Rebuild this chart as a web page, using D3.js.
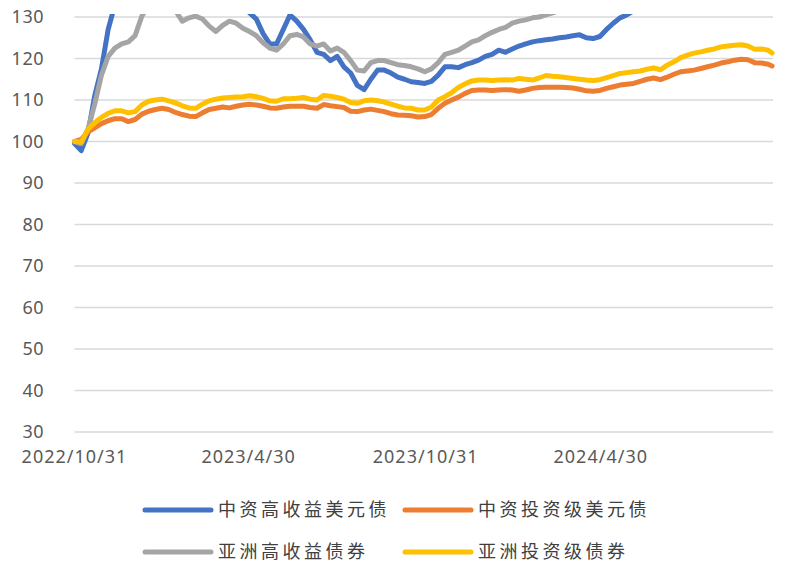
<!DOCTYPE html>
<html>
<head>
<meta charset="utf-8">
<script src="https://cdn.jsdelivr.net/npm/d3@7"></script>
<style>
  body { margin: 0; background: #fff; }
  svg { display: block; }
  text { font-family: "Noto Sans", "Noto Sans CJK SC", sans-serif; fill: #595959; }
</style>
</head>
<body>
<div id="chart"></div>
<script>
// weekly observation dates
var dates = [
  "2022-10-31","2022-11-07","2022-11-14","2022-11-21","2022-11-28","2022-12-05","2022-12-12","2022-12-19","2022-12-26",
  "2023-01-02","2023-01-09","2023-01-16","2023-01-23","2023-01-30","2023-02-06","2023-02-13","2023-02-20","2023-02-27",
  "2023-03-06","2023-03-13","2023-03-20","2023-03-27","2023-04-03","2023-04-10","2023-04-17","2023-04-24","2023-05-01",
  "2023-05-08","2023-05-15","2023-05-22","2023-05-29","2023-06-05","2023-06-12","2023-06-19","2023-06-26","2023-07-03",
  "2023-07-10","2023-07-17","2023-07-24","2023-07-31","2023-08-07","2023-08-14","2023-08-21","2023-08-28","2023-09-04",
  "2023-09-11","2023-09-18","2023-09-25","2023-10-02","2023-10-09","2023-10-16","2023-10-23","2023-10-30","2023-11-06",
  "2023-11-13","2023-11-20","2023-11-27","2023-12-04","2023-12-11","2023-12-18","2023-12-25","2024-01-01","2024-01-08",
  "2024-01-15","2024-01-22","2024-01-29","2024-02-05","2024-02-12","2024-02-19","2024-02-26","2024-03-04","2024-03-11",
  "2024-03-18","2024-03-25","2024-04-01","2024-04-08","2024-04-15","2024-04-22","2024-04-29","2024-05-06","2024-05-13",
  "2024-05-20","2024-05-27","2024-06-03","2024-06-10","2024-06-17","2024-06-24","2024-07-01","2024-07-08","2024-07-15",
  "2024-07-22","2024-07-29","2024-08-05","2024-08-12","2024-08-19","2024-08-26","2024-09-02","2024-09-09","2024-09-16",
  "2024-09-23","2024-09-30","2024-10-07","2024-10-14","2024-10-21","2024-10-25"
];

// 中资高收益美元债
var cnHighYield = [
  99.5, 97.8, 102, 111, 117.5, 127, 133, 135, 137, 138,
  140, 141, 140, 139, 141, 142, 140, 139, 141, 140,
  138, 137, 136, 135, 134, 133, 131, 129.5, 126, 123.5,
  123.5, 127, 130.5, 129, 127, 124.5, 121.5, 121, 119.5, 120.5,
  118, 116.5, 113.5, 112.5, 115, 117.2, 117.2, 116.5, 115.5, 115,
  114.4, 114.2, 114, 114.5, 116, 118, 118, 117.8, 118.5, 119,
  119.6, 120.5, 121, 122, 121.5, 122.3, 123, 123.5, 124, 124.3,
  124.5, 124.7, 125, 125.2, 125.5, 125.7, 125, 124.8, 125.3, 127,
  128.5, 129.8, 130.5, 131.5, 132, 133, 134, 134.5, 135, 136,
  137, 137.5, 138, 139, 140, 141, 141.5, 142, 143, 143.5,
  144, 144, 143.5, 143, 142.5
];

// 中资投资级美元债
var cnInvGrade = [
  100, 100.5, 102.3, 103.3, 104.3, 105, 105.5, 105.5, 104.8, 105.3,
  106.6, 107.3, 107.7, 108, 107.7, 107, 106.5, 106.1, 106, 106.9,
  107.7, 108, 108.3, 108.1, 108.5, 108.8, 109, 108.8, 108.5, 108.1,
  108, 108.3, 108.5, 108.5, 108.5, 108.2, 108, 108.9, 108.6, 108.4,
  108.2, 107.3, 107.2, 107.6, 107.8, 107.5, 107.2, 106.7, 106.4, 106.3,
  106.2, 105.9, 106, 106.5, 108, 109.2, 110, 110.7, 111.6, 112.3,
  112.4, 112.4, 112.3, 112.4, 112.5, 112.4, 112.1, 112.4, 112.8, 113,
  113.1, 113.1, 113.1, 113, 112.9, 112.6, 112.2, 112.1, 112.3, 112.8,
  113.2, 113.6, 113.8, 114, 114.5, 115, 115.3, 114.9, 115.5, 116.2,
  116.8, 117, 117.2, 117.6, 118, 118.4, 118.9, 119.2, 119.6, 119.8,
  119.7, 119, 118.9, 118.6, 118.2
];

// 亚洲高收益债券
var asiaHighYield = [
  100, 99.5, 103, 109, 116, 120.5, 122.5, 123.5, 124, 125.5,
  130.2, 133, 134, 134, 133, 131.5, 129, 129.8, 130.2, 129.5,
  127.8, 126.5, 128, 129, 128.5, 127.3, 126.5, 125.5, 123.8, 122.5,
  122, 123.5, 125.5, 125.8, 125.2, 123.5, 123, 123.5, 121.8, 122.5,
  121.5, 119.5, 117.2, 117, 119, 119.5, 119.5, 119, 118.5, 118.3,
  118, 117.5, 116.8, 117.5, 119, 121, 121.5, 122, 123, 124,
  124.5, 125.5, 126.3, 127, 127.5, 128.5, 129, 129.3, 129.8, 130,
  130.5, 131, 131.5, 132, 132.5, 133, 133.5, 134, 134.5, 135,
  135.5, 136, 136.5, 137, 137.5, 138, 138.5, 139, 139.5, 140,
  140.5, 141, 141.5, 142, 142.5, 143, 143.5, 143.5, 143, 142.5,
  142, 141.5, 141, 141, 140.5
];

// 亚洲投资级债券
var asiaInvGrade = [
  100, 99.8, 103, 104.5, 105.8, 106.8, 107.4, 107.4, 106.9, 107.2,
  108.8, 109.7, 110, 110.2, 109.8, 109.3, 108.6, 108.1, 108, 109,
  109.8, 110.2, 110.5, 110.6, 110.7, 110.8, 111, 110.8, 110.4, 109.8,
  109.7, 110.3, 110.3, 110.4, 110.6, 110.2, 110, 111.1, 110.9, 110.6,
  110.2, 109.4, 109.2, 109.8, 110, 109.8, 109.5, 109, 108.5, 108.1,
  108, 107.6, 107.6, 108.3, 110, 110.8, 111.8, 113, 113.9, 114.6,
  114.8, 114.8, 114.7, 114.8, 114.9, 114.8, 115.2, 115, 114.8, 115.3,
  115.9, 115.7, 115.6, 115.4, 115.2, 115, 114.8, 114.7, 114.9, 115.4,
  115.9, 116.4, 116.6, 116.8, 117, 117.4, 117.7, 117.3, 118.4, 119.2,
  120.2, 120.8, 121.3, 121.6, 122, 122.3, 122.8, 123, 123.2, 123.3,
  123, 122.2, 122.3, 122, 121.3
];

var seriesNames = ["中资高收益美元债", "中资投资级美元债", "亚洲高收益债券", "亚洲投资级债券"];
var seriesColors = ["#4472C4", "#ED7D31", "#A5A5A5", "#FFC000"];
var xTickLabels = ["2022/10/31", "2023/4/30", "2023/10/31", "2024/4/30"];
var yTicks = [30, 40, 50, 60, 70, 80, 90, 100, 110, 120, 130];

(() => {
    const width = 788, height = 577;
    const plotLeft = 74.5, plotRight = 773, plotTop = 17, plotBottom = 432;

    const parse = d3.timeParse("%Y-%m-%d");
    const dateObjs = dates.map(parse);
    const tickParse = d3.timeParse("%Y/%m/%d");

    const svg = d3.select("#chart")
        .append("svg")
        .attr("width", width)
        .attr("height", height);

    const xScale = d3.scaleTime()
        .domain([parse("2022-10-31"), parse("2024-10-26")])
        .range([plotLeft, plotRight]);

    const yScale = d3.scaleLinear()
        .domain([30, 130])
        .range([plotBottom, plotTop]);

    // gridlines
    svg.append("g")
        .selectAll("line")
        .data(yTicks)
        .enter()
        .append("line")
        .attr("x1", plotLeft)
        .attr("x2", plotRight)
        .attr("y1", d => yScale(d))
        .attr("y2", d => yScale(d))
        .attr("stroke", "#d9d9d9")
        .attr("stroke-width", 1.3);

    // y labels
    svg.append("g")
        .selectAll("text")
        .data(yTicks)
        .enter()
        .append("text")
        .attr("x", 44)
        .attr("y", d => yScale(d))
        .attr("dy", "0.35em")
        .attr("text-anchor", "end")
        .style("font-size", "18px")
        .style("letter-spacing", "0.5px")
        .text(d => d);

    // x labels
    svg.append("g")
        .selectAll("text")
        .data(xTickLabels)
        .enter()
        .append("text")
        .attr("x", d => xScale(tickParse(d)))
        .attr("y", 457)
        .attr("dy", "0.35em")
        .attr("text-anchor", "middle")
        .style("font-size", "18px")
        .style("letter-spacing", "1px")
        .text(d => d);

    // lines above 130 are cut off at the plot top
    svg.append("clipPath")
        .attr("id", "plot-clip")
        .append("rect")
        .attr("x", 0)
        .attr("y", 14)
        .attr("width", width)
        .attr("height", plotBottom - 14);

    const allSeries = [cnHighYield, cnInvGrade, asiaHighYield, asiaInvGrade];

    const line = d3.line()
        .x((d, i) => xScale(dateObjs[i]))
        .y(d => yScale(d));

    svg.append("g")
        .attr("clip-path", "url(#plot-clip)")
        .selectAll("path")
        .data(allSeries)
        .enter()
        .append("path")
        .attr("d", d => line(d))
        .attr("fill", "none")
        .attr("stroke", (d, i) => seriesColors[i])
        .attr("stroke-width", 5)
        .attr("stroke-linejoin", "round")
        .attr("stroke-linecap", "round");

    // legend
    const legendPos = [[143, 510], [403, 510], [143, 552], [403, 552]];

    const legend = svg.append("g")
        .selectAll("g")
        .data(seriesNames)
        .enter()
        .append("g")
        .attr("transform", (d, i) => "translate(" + legendPos[i][0] + "," + legendPos[i][1] + ")");

    legend.append("line")
        .attr("x1", 2)
        .attr("x2", 68)
        .attr("stroke", (d, i) => seriesColors[i])
        .attr("stroke-width", 5)
        .attr("stroke-linecap", "round");

    legend.append("text")
        .attr("x", 75)
        .attr("dy", "0.36em")
        .style("font-family", "'Noto Sans CJK SC', sans-serif")
        .style("font-size", "18px")
        .style("letter-spacing", "3.5px")
        .style("fill", "#404040")
        .text(d => d);
})();
</script>
</body>
</html>
